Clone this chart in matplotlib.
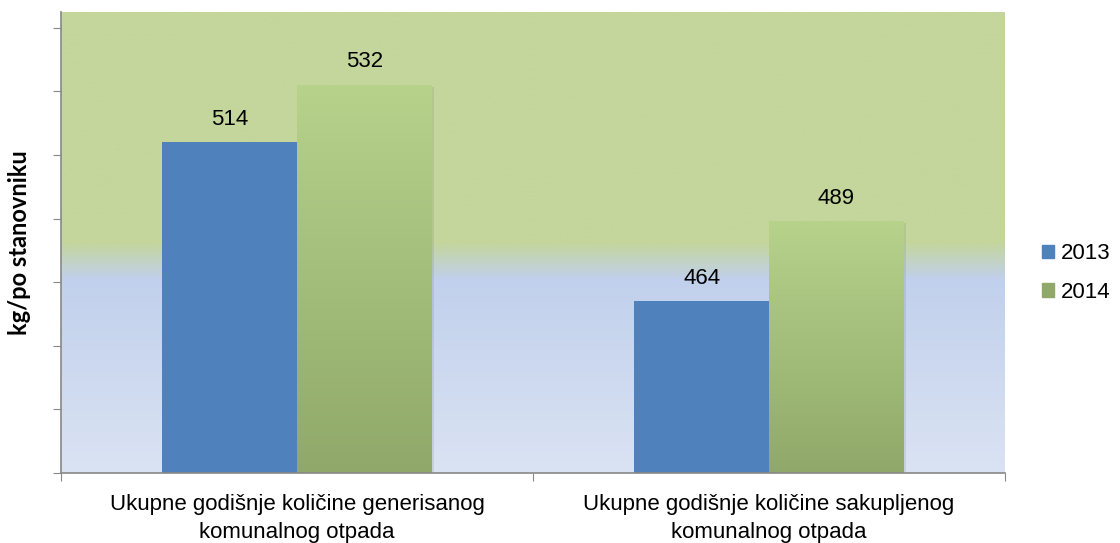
import numpy as np
import matplotlib
matplotlib.use("Agg")
import matplotlib.pyplot as plt
from matplotlib.colors import LinearSegmentedColormap
from matplotlib.patches import Patch
import matplotlib.patheffects as pe

categories = ["Ukupne godišnje količine generisanog\nkomunalnog otpada",
              "Ukupne godišnje količine sakupljenog\nkomunalnog otpada"]
years = ["2013", "2014"]
values_2013 = [514, 464]
values_2014 = [532, 489]

plt.rcParams["font.family"] = ["Liberation Sans", "DejaVu Sans"]

fig = plt.figure(figsize=(11.2, 5.43), dpi=100)
ax = fig.add_axes([61 / 1120, 70 / 543, 944 / 1120, 461 / 543])

# pozadina: zeleno gore, plavo dole
bg = LinearSegmentedColormap.from_list(
    "bg", [(0.0, "#dae3f3"), (0.42, "#c1d0ec"), (0.5, "#c4d69c"), (1.0, "#c4d69c")])
grad = np.linspace(0, 1, 256).reshape(-1, 1)
ax.imshow(grad, cmap=bg, origin="lower", aspect="auto", extent=[0, 1, 0, 1],
          transform=ax.transAxes, zorder=0)

x = np.arange(len(categories))
w = 1 / 3.5
ymin, ymax = 410, 555
shadow = [pe.SimplePatchShadow(offset=(1.5, -1), alpha=0.12), pe.Normal()]

b1 = ax.bar(x - w / 2, values_2013, w, bottom=0, color="#4f81bd", zorder=2,
            path_effects=shadow)
b2 = ax.bar(x + w / 2, values_2014, w, bottom=0, color="none", zorder=2,
            path_effects=shadow)

gcm = LinearSegmentedColormap.from_list("g", ["#90a96a", "#b6d28b"])
for bar in b2:
    bx, bw, bh = bar.get_x(), bar.get_width(), bar.get_height()
    ax.imshow(grad, cmap=gcm, origin="lower", aspect="auto",
              extent=[bx, bx + bw, ymin, bh], zorder=2.5)

for bars in (b1, b2):
    for bar in bars:
        ax.text(bar.get_x() + bar.get_width() / 2, bar.get_height() + 4,
                f"{bar.get_height():.0f}", ha="center", va="bottom", fontsize=16)

ax.set_xlim(-0.5, 1.5)
ax.set_ylim(ymin, ymax)
ax.set_yticks(np.arange(410, 551, 20))
ax.set_yticklabels([])
ax.set_xticks([-0.5, 0.5, 1.5])
ax.set_xticklabels([])
ax.set_xticks(x, minor=True)
ax.set_xticklabels(categories, minor=True, fontsize=16, linespacing=1.45)
ax.tick_params(axis="x", which="minor", length=0, pad=15)
ax.tick_params(axis="x", which="major", length=6, color="#888888", direction="out")
ax.tick_params(axis="y", length=6, color="#888888", direction="out")

for s in ["top", "right"]:
    ax.spines[s].set_visible(False)
for s in ["left", "bottom"]:
    ax.spines[s].set_color("#888888")
    ax.spines[s].set_linewidth(1.2)

ax.set_ylabel("kg/po stanovniku", fontsize=17, fontweight="bold",
              family=["Lato", "DejaVu Sans"], labelpad=12)

handles = [Patch(color="#4f81bd"), Patch(color="#90a96a")]
fig.legend(handles, years, loc="center left", bbox_to_anchor=(0.93, 0.497),
           frameon=False, fontsize=16, handlelength=0.55, handleheight=0.55,
           handletextpad=0.3, labelspacing=0.8, borderpad=0, borderaxespad=0)

plt.savefig("out.png", dpi=100)
